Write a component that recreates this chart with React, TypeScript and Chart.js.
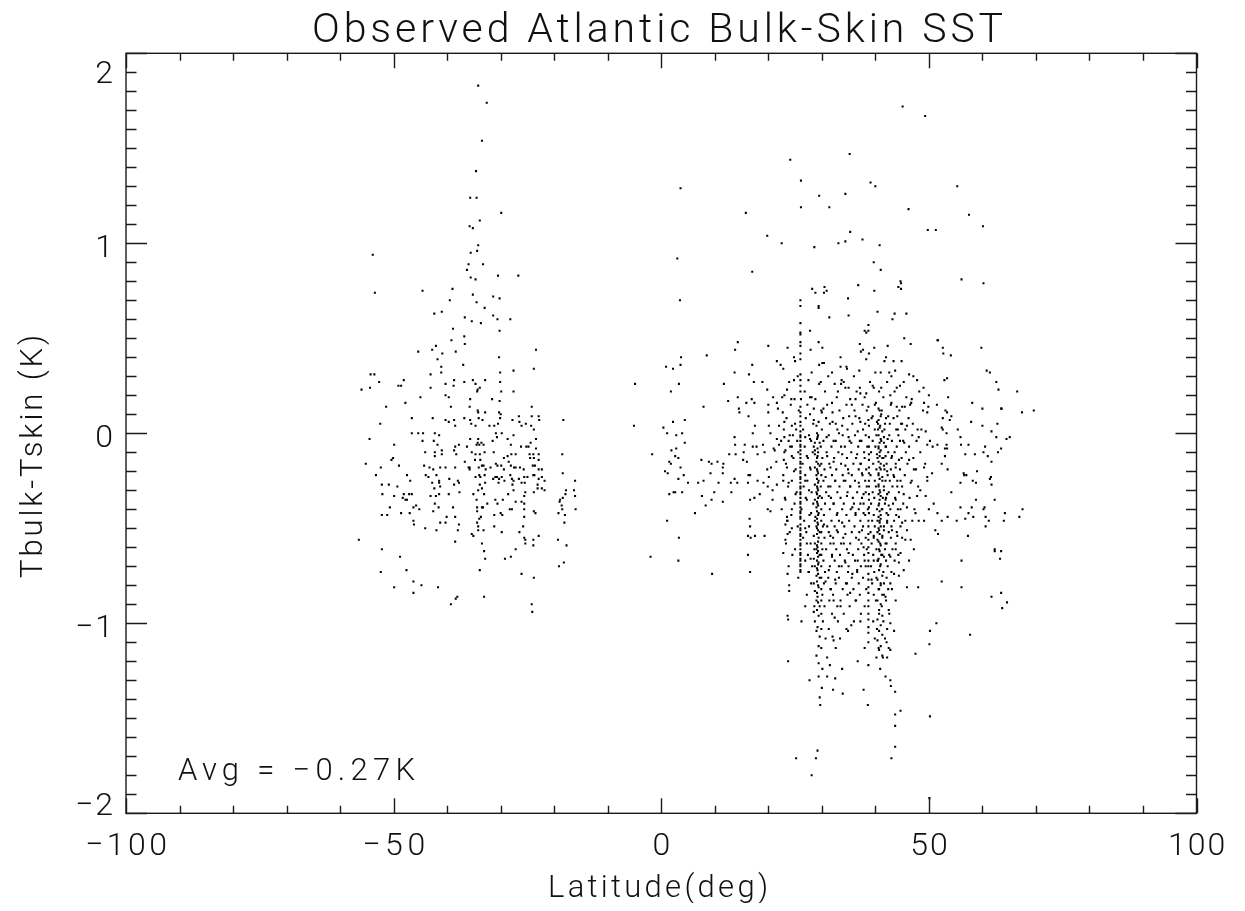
import React, { useEffect, useRef } from "react";
import { Chart, registerables } from "chart.js";

Chart.register(...registerables);

const TITLE = "Observed Atlantic Bulk-Skin SST";
const X_TITLE = "Latitude(deg)";
const Y_TITLE = "Tbulk-Tskin (K)";
const AVG_NOTE = "Avg = \u22120.27K";
const X_TICKS = [-100, -50, 0, 50, 100];
const Y_TICKS = [-2, -1, 0, 1, 2];

// [latitude (deg), Tbulk - Tskin (K)]
const southTail: number[][] = [
  [-34.2,1.83],[-32.6,1.74],[-33.5,1.54],[-34.6,1.38],[-35.7,1.24],[-34.5,1.24],[-29.9,1.16],[-33.9,1.12],[-35.8,1.09],[-35.2,1.08],
  [-34.2,0.99],[-35.6,0.95],[-34.4,0.96],[-53.9,0.94],[-36.0,0.89],[-33.3,0.89],[-36.3,0.86],[-30.5,0.83],[-26.7,0.83],[-35.6,0.82],
  [-34.7,0.81],[-53.5,0.74],[-44.6,0.75],[-39.0,0.76],[-35.2,0.73],[-31.4,0.72],[-30.2,0.71],[-39.5,0.70],[-34.5,0.69],[-33.0,0.66],
  [-42.4,0.63],[-41.0,0.64],[-31.4,0.62],[-30.6,0.60],[-28.2,0.60],[-36.7,0.61],[-35.4,0.59],[-33.7,0.58],[-38.9,0.55],
];

const southCore: number[][] = [
  [-30.2,0.54],[-36.8,0.51],[-39.2,0.49],[-42.1,0.46],[-36.7,0.47],[-42.8,0.44],[-45.4,0.43],[-38.4,0.43],[-40.9,0.42],[-23.4,0.44],[-41.8,0.39],[-41.1,0.35],[-37.0,0.36],[-30.3,0.40],
  [-54.3,0.31],[-53.6,0.31],[-43.1,0.31],[-41.1,0.32],[-27.6,0.33],[-23.8,0.34],[-30.1,0.32],
  [-48.1,0.28],[-52.7,0.27],[-38.7,0.28],[-35.2,0.28],[-32.9,0.28],[-36.8,0.27],[-34.7,0.26],[-56.0,0.23],[-54.4,0.24],[-49.1,0.25],[-48.6,0.25],[-43.1,0.24],[-40.3,0.26],[-38.8,0.25],[-34.3,0.23],[-33.9,0.24],[-34.4,0.22],[-30.1,0.27],[-29.9,0.22],[-27.6,0.22],
  [-45.0,0.19],[-47.8,0.16],[-40.3,0.20],[-39.7,0.19],[-35.7,0.18],[-31.6,0.18],[-30.2,0.17],[-51.4,0.14],[-39.3,0.14],[-35.8,0.14],[-34.3,0.12],[-34.2,0.11],[-32.9,0.11],[-30.3,0.11],[-30.0,0.10],[-30.1,0.08],[-24.2,0.14],
  [-46.6,0.08],[-42.7,0.08],[-36.8,0.08],[-40.3,0.07],[-39.7,0.06],[-38.7,0.07],[-35.7,0.07],[-35.5,0.05],[-34.7,0.04],[-34.1,0.08],[-33.4,0.07],[-32.1,0.04],[-31.2,0.04],[-30.5,0.05],[-27.8,0.07],[-26.6,0.09],[-26.5,0.06],[-26.1,0.04],[-25.3,0.05],[-24.2,0.09],[-22.9,0.09],[-22.8,0.07],[-23.8,0.02],[-24.3,0.04],[-18.3,0.07],[-52.5,0.05],[-38.5,0.04],
  [-54.5,-0.03],[-46.6,0.00],[-45.4,0.00],[-44.5,0.00],[-42.3,0.00],[-41.5,-0.01],[-44.6,-0.04],[-42.5,-0.04],[-41.8,-0.06],[-30.9,0.00],[-29.8,0.00],[-30.7,-0.02],[-31.5,-0.04],[-35.7,-0.03],[-34.2,-0.03],[-34.3,-0.05],[-33.6,-0.05],[-34.5,-0.06],[-34.0,-0.06],[-33.2,-0.06],[-36.3,-0.07],[-37.8,-0.06],[-28.7,-0.03],[-27.6,-0.01],[-28.1,-0.06],[-26.2,-0.07],[-25.2,-0.07],[-24.8,-0.07],[-24.4,-0.05],[-23.4,-0.03],[-23.4,-0.08],
  [-49.9,-0.06],[-44.1,-0.10],[-42.3,-0.10],[-41.0,-0.09],[-38.5,-0.07],[-38.7,-0.09],[-38.3,-0.11],[-42.3,-0.12],[-41.0,-0.11],[-35.4,-0.10],[-34.7,-0.11],[-33.9,-0.11],[-33.0,-0.10],[-31.3,-0.10],[-29.4,-0.13],[-28.7,-0.12],[-28.0,-0.11],[-27.2,-0.11],[-23.9,-0.11],[-22.9,-0.11],[-24.6,-0.11],[-24.5,-0.13],[-23.8,-0.13],[-22.9,-0.14],[-18.5,-0.11],
  [-55.2,-0.16],[-52.4,-0.18],[-50.4,-0.14],[-50.1,-0.13],[-49.0,-0.17],[-44.3,-0.17],[-43.3,-0.18],[-42.6,-0.19],[-41.3,-0.18],[-40.3,-0.18],[-38.5,-0.18],[-36.7,-0.15],[-36.0,-0.18],[-35.8,-0.18],[-35.8,-0.19],[-34.8,-0.14],[-33.8,-0.14],[-33.5,-0.17],[-33.2,-0.17],[-34.1,-0.18],[-32.8,-0.19],[-31.9,-0.18],[-30.9,-0.16],[-30.6,-0.17],[-29.9,-0.17],[-29.4,-0.19],[-28.5,-0.15],[-28.1,-0.17],[-27.5,-0.18],[-27.2,-0.18],[-26.4,-0.18],[-25.7,-0.19],[-24.0,-0.17],[-23.6,-0.17],[-22.9,-0.19],[-22.3,-0.19],[-18.4,-0.21],[-23.9,-0.22],
  [-53.3,-0.22],[-47.5,-0.22],[-46.9,-0.25],[-44.0,-0.22],[-43.5,-0.23],[-42.0,-0.22],[-41.5,-0.25],[-39.6,-0.24],[-38.0,-0.25],[-34.0,-0.22],[-33.8,-0.23],[-34.7,-0.23],[-33.0,-0.22],[-31.4,-0.24],[-31.0,-0.23],[-30.7,-0.23],[-30.3,-0.24],[-29.8,-0.23],[-29.3,-0.25],[-28.2,-0.22],[-27.9,-0.24],[-27.6,-0.25],[-26.6,-0.24],[-25.6,-0.23],[-25.0,-0.23],[-23.7,-0.22],[-22.9,-0.24],[-22.3,-0.23],[-21.8,-0.25],
  [-52.2,-0.27],[-50.9,-0.27],[-49.3,-0.28],[-42.8,-0.26],[-41.5,-0.26],[-42.4,-0.29],[-41.3,-0.28],[-37.8,-0.26],[-33.9,-0.27],[-32.9,-0.26],[-30.4,-0.26],[-27.8,-0.27],[-26.1,-0.26],[-25.5,-0.26],[-23.1,-0.27],[-22.3,-0.29],[-16.1,-0.25],[-38.7,-0.27],
  [-52.1,-0.32],[-49.9,-0.33],[-48.1,-0.32],[-48.3,-0.34],[-47.1,-0.32],[-46.6,-0.32],[-47.8,-0.35],[-47.5,-0.35],[-46.3,-0.39],[-45.8,-0.38],[-45.2,-0.40],[-47.0,-0.42],[-43.1,-0.33],[-42.1,-0.33],[-41.5,-0.32],[-39.7,-0.32],[-37.7,-0.31],[-35.1,-0.32],[-34.2,-0.30],[-33.5,-0.29],[-33.1,-0.32],[-34.5,-0.35],[-32.5,-0.37],[-31.0,-0.35],[-30.6,-0.37],[-29.6,-0.35],[-28.6,-0.32],[-27.6,-0.30],[-25.4,-0.31],[-25.6,-0.33],[-23.8,-0.31],[-23.1,-0.29],[-21.8,-0.30],[-17.8,-0.30],[-16.3,-0.30],[-17.9,-0.32],[-16.1,-0.33],
  [-50.7,-0.39],[-52.2,-0.43],[-51.2,-0.43],[-48.6,-0.42],[-42.6,-0.41],[-41.6,-0.39],[-42.3,-0.37],[-38.9,-0.39],[-34.4,-0.39],[-33.5,-0.39],[-34.4,-0.41],[-33.3,-0.39],[-31.2,-0.43],[-30.0,-0.42],[-29.7,-0.43],[-28.3,-0.40],[-27.9,-0.40],[-27.2,-0.36],[-26.1,-0.36],[-25.6,-0.37],[-25.6,-0.40],[-25.6,-0.44],[-23.8,-0.41],[-23.5,-0.42],[-18.9,-0.35],[-19.0,-0.36],[-18.4,-0.34],[-18.6,-0.38],[-18.5,-0.40],[-19.2,-0.42],[-16.0,-0.40],
  [-46.3,-0.46],[-46.2,-0.48],[-44.1,-0.50],[-42.0,-0.51],[-41.3,-0.47],[-40.3,-0.47],[-40.1,-0.44],[-38.5,-0.44],[-37.8,-0.48],[-38.0,-0.51],[-34.4,-0.47],[-34.0,-0.45],[-33.7,-0.44],[-34.2,-0.49],[-34.2,-0.51],[-33.2,-0.51],[-35.1,-0.54],[-35.4,-0.53],[-31.2,-0.49],[-29.8,-0.52],[-26.5,-0.52],[-25.8,-0.49],[-25.6,-0.55],[-23.9,-0.56],[-22.9,-0.54],[-18.1,-0.47],[-18.0,-0.43],
  [-56.5,-0.56],[-52.2,-0.61],[-48.8,-0.65],[-38.5,-0.57],[-33.5,-0.58],[-33.1,-0.62],[-32.9,-0.66],[-29.2,-0.66],[-28.1,-0.65],[-27.2,-0.61],[-25.4,-0.56],[-25.4,-0.58],[-23.9,-0.59],[-19.3,-0.56],[-17.7,-0.59],[-18.2,-0.68],[-19.1,-0.70],
  [-52.4,-0.73],[-47.6,-0.72],[-49.9,-0.81],[-46.3,-0.78],[-44.8,-0.80],[-46.3,-0.84],[-41.7,-0.81],[-33.9,-0.72],[-26.1,-0.74],[-23.8,-0.76],
  [-39.3,-0.90],[-38.4,-0.87],[-38.1,-0.86],[-33.1,-0.86],[-24.2,-0.90],[-24.1,-0.94],
];

const equatorBand: number[][] = [
  [24.1,1.44],[26.1,1.33],[29.5,1.25],[26.1,1.19],[22.5,1.00],[28.6,0.98],
  [3.6,1.29],[15.8,1.16],[19.8,1.04],[3.0,0.92],[17.0,0.85],[3.5,0.70],[14.3,0.48],[13.8,0.44],[20.0,0.46],[8.5,0.41],[3.7,0.40],[0.9,0.35],[2.2,0.34],[3.6,0.36],
  [17.0,0.36],[21.6,0.38],[13.7,0.32],[16.4,0.31],[-4.9,0.26],[3.3,0.26],[1.8,0.22],[11.7,0.26],[17.3,0.27],[18.9,0.27],[19.8,0.23],[20.9,0.19],[21.6,0.16],[12.5,0.17],
  [14.3,0.19],[16.9,0.18],[15.9,0.16],[17.4,0.16],[20.0,0.15],[7.9,0.14],[14.5,0.13],[14.6,0.11],[16.3,0.09],[20.0,0.11],[21.8,0.13],[-5.1,0.04],[0.4,0.03],[2.2,0.06],
  [4.4,0.07],[13.7,-0.02],[13.8,-0.06],[1.1,0.00],[2.8,-0.01],[3.9,0.00],[4.4,-0.05],[2.8,-0.08],[17.5,0.04],[17.1,0.00],[15.6,-0.06],[17.1,-0.07],[17.8,-0.07],[19.0,-0.06],
  [20.1,0.04],[20.4,0.00],[21.6,-0.03],[22.0,0.04],[22.0,-0.06],[21.0,-0.08],
  [-1.7,-0.11],[1.9,-0.09],[2.6,-0.12],[3.2,-0.13],[1.5,-0.15],[1.8,-0.16],[3.6,-0.18],[0.7,-0.20],[1.2,-0.21],[4.2,-0.22],[3.2,-0.24],[5.0,-0.26],[2.3,-0.31],[2.6,-0.31],
  [3.9,-0.31],[1.5,-0.32],[7.5,-0.14],[8.9,-0.15],[9.4,-0.16],[10.5,-0.15],[11.6,-0.16],[11.5,-0.18],[9.2,-0.21],[11.5,-0.21],[6.9,-0.26],[7.9,-0.25],[10.7,-0.26],[13.0,-0.26],
  [13.7,-0.24],[14.2,-0.26],[9.9,-0.31],[7.6,-0.33],[9.4,-0.35],[11.5,-0.36],[13.1,-0.31],[8.3,-0.38],[6.3,-0.42],[1.1,-0.46],[3.3,-0.55],[-2.0,-0.65],[3.2,-0.67],[9.5,-0.74],
  [12.7,-0.11],[13.9,-0.11],[15.4,-0.10],[15.3,-0.14],[16.0,-0.15],[16.3,-0.22],[16.6,-0.22],[16.2,-0.26],[18.0,-0.11],[19.3,-0.10],[18.0,-0.25],[18.4,-0.32],[17.4,-0.34],
  [16.6,-0.35],[16.5,-0.45],[16.6,-0.49],[16.2,-0.54],[16.7,-0.55],[17.5,-0.54],[19.3,-0.54],[16.2,-0.64],[16.6,-0.73],[19.1,-0.26],[19.8,-0.19],[20.5,-0.18],[20.1,-0.23],
  [19.9,-0.28],[21.6,-0.27],[20.8,-0.30],[20.8,-0.35],[19.9,-0.40],[20.4,-0.41],[21.2,-0.09],[21.5,-0.15],
];

const track26: number[][] = [
  [26.0,0.70],[26.0,0.67],[26.0,0.58],[26.0,0.53],[26.0,0.52],[26.0,0.48],[26.0,0.46],[26.0,0.42],[26.0,0.39],[26.0,0.31],[26.0,0.28],[26.0,0.25],[26.0,0.22],[26.1,0.18],
  [26.0,0.14],[26.0,0.11],[26.0,0.09],[26.0,0.06],[26.0,0.04],[26.0,0.01],[26.0,-0.01],[26.0,-0.02],[26.0,-0.04],[26.0,-0.06],[26.0,-0.07],[26.0,-0.09],[26.0,-0.11],
  [26.0,-0.13],[26.0,-0.15],[26.0,-0.16],[26.0,-0.18],[26.0,-0.20],[26.0,-0.21],[26.0,-0.23],[26.0,-0.24],[26.0,-0.26],[26.0,-0.28],[26.0,-0.29],[26.0,-0.31],[26.0,-0.32],
  [26.0,-0.34],[26.0,-0.36],[26.0,-0.37],[26.0,-0.39],[26.0,-0.41],[26.0,-0.42],[26.0,-0.44],[26.0,-0.45],[26.0,-0.48],[26.0,-0.50],[26.0,-0.51],[26.0,-0.53],[26.0,-0.54],
  [26.0,-0.56],[26.0,-0.58],[26.0,-0.59],[26.0,-0.61],[26.0,-0.63],[26.0,-0.64],[26.0,-0.66],[26.0,-0.67],[26.0,-0.69],[26.0,-0.70],[26.0,-0.72],[26.0,-0.73],
];

const track29: number[][] = [
  [29.4,0.67],[29.4,0.66],[29.4,0.48],[30.1,0.45],[29.5,0.26],[28.8,0.18],[28.5,0.13],[28.5,0.07],[29.4,0.06],[29.0,0.04],[29.1,0.00],[29.2,-0.02],[28.7,-0.05],[29.6,-0.05],
  [28.5,-0.07],[28.7,-0.09],[29.2,-0.08],[28.7,-0.11],[29.2,-0.12],[29.0,-0.15],[29.6,-0.17],[28.7,-0.18],[29.2,-0.20],[29.0,-0.22],[29.4,-0.25],[28.7,-0.27],[29.2,-0.29],
  [29.0,-0.31],[29.6,-0.33],[28.7,-0.35],[29.2,-0.37],[29.0,-0.39],[29.4,-0.42],[28.8,-0.44],[28.7,-0.46],[29.2,-0.47],[29.0,-0.49],[29.6,-0.52],[28.5,-0.54],[29.4,-0.55],
  [28.7,-0.58],[29.2,-0.60],[29.0,-0.61],[29.6,-0.64],[28.5,-0.66],[29.4,-0.68],[28.7,-0.70],[29.2,-0.72],[29.0,-0.75],[29.6,-0.76],[28.5,-0.79],[29.4,-0.81],[28.7,-0.83],
  [29.2,-0.86],[29.0,-0.88],[29.6,-0.91],[28.5,-0.94],[29.4,-0.96],[28.7,-0.99],[29.2,-1.02],[29.0,-1.04],[29.6,-1.07],[29.4,-1.12],[29.0,-1.17],[29.4,-1.21],[29.4,-1.28],
  [30.0,-1.34],[29.6,-1.39],[29.7,-1.43],[29.2,-1.67],[28.9,-1.71],[28.1,-1.80],[25.2,-1.71],
  [29.3,-0.01],[29.1,-0.03],[29.3,-0.10],[29.1,-0.13],[29.3,-0.16],[29.1,-0.19],[29.3,-0.21],[29.1,-0.24],[29.3,-0.26],[29.1,-0.28],[29.3,-0.30],[29.1,-0.32],
  [29.3,-0.34],[29.1,-0.36],[29.3,-0.38],[29.1,-0.41],[29.3,-0.43],[29.1,-0.45],[29.3,-0.48],[29.1,-0.50],[29.3,-0.51],[29.1,-0.53],[29.3,-0.57],[29.1,-0.59],
  [29.3,-0.62],[29.1,-0.63],[29.3,-0.65],[29.1,-0.67],[29.3,-0.69],[29.1,-0.71],[29.3,-0.74],[29.1,-0.78],[29.3,-0.80],[29.1,-0.84],[29.3,-0.89],[29.1,-0.93],
];

const track39: number[][] = [
  [38.7,0.14],[38.7,0.07],[38.8,0.04],[38.8,-0.02],[38.8,-0.07],[38.8,-0.11],[38.8,-0.14],[38.8,-0.18],[38.8,-0.21],[38.8,-0.25],[38.8,-0.28],[38.8,-0.32],[38.8,-0.35],
  [38.8,-0.39],[38.8,-0.42],[38.7,-0.46],[38.7,-0.49],[38.7,-0.53],[38.7,-0.56],[38.7,-0.60],[38.7,-0.63],[38.7,-0.67],[38.7,-0.70],[38.7,-0.74],[38.7,-0.77],[38.7,-0.81],
  [38.7,-0.84],[38.7,-0.88],[38.7,-0.91],[38.7,-0.95],[38.7,-0.98],[38.7,-1.02],[38.7,-1.05],[38.7,-1.10],[38.7,-1.22],[38.6,-1.43],
];

const track41: number[][] = [
  [40.4,-0.46],[41.0,-0.49],[40.7,-0.51],[41.3,-0.54],[40.4,-0.56],[41.0,-0.59],[40.7,-0.61],[41.3,-0.64],[40.4,-0.67],[41.0,-0.69],[40.7,-0.72],[41.3,-0.75],[40.4,-0.77],
  [41.0,-0.80],[40.7,-0.82],[41.3,-0.85],[40.4,-0.88],[41.0,-0.90],[40.7,-0.93],[41.3,-0.96],[40.4,-0.98],[41.0,-1.01],[40.7,-1.04],[41.3,-1.06],[40.4,-1.09],[41.0,-1.12],
  [40.7,-1.14],[41.3,-1.17],
  [40.8,0.12],[40.6,0.07],[40.8,0.03],[40.6,-0.01],[40.8,-0.05],[40.6,-0.08],[40.8,-0.12],[40.6,-0.15],[40.8,-0.18],[40.6,-0.21],[40.8,-0.24],[40.6,-0.27],
  [40.8,-0.30],[40.6,-0.32],[40.8,-0.35],[40.6,-0.38],[40.8,-0.41],[40.6,-0.44],[40.8,-0.47],[40.6,-0.50],[40.8,-0.53],[40.6,-0.57],[40.8,-0.62],[40.6,-0.66],
];

const northUpper: number[][] = [
  [28.2,0.76],[28.8,0.74],[30.5,0.77],[30.4,0.74],[34.9,0.71],[39.8,0.75],[44.8,0.79],[44.8,0.76],[31.4,0.61],[35.0,0.62],[40.4,0.64],[43.6,0.63],[43.2,0.60],[45.8,0.63],
  [27.8,0.54],[38.7,0.57],[38.7,0.54],[38.0,0.54],[38.3,0.53],[45.4,0.50],[46.6,0.47],[51.7,0.49],[27.9,0.44],[23.6,0.45],[37.1,0.47],[37.3,0.43],[37.7,0.44],[38.8,0.42],
  [39.8,0.45],[38.3,0.39],[42.3,0.46],[33.5,0.40],[34.6,0.35],[33.5,0.35],[42.0,0.40],[41.7,0.38],[43.4,0.38],[44.9,0.38],[24.8,0.40],[25.0,0.38],[22.3,0.36],[22.8,0.34],
  [30.1,0.37],[29.5,0.36],[30.4,0.37],[28.1,0.32],[31.9,0.32],[34.7,0.34],[37.0,0.33],[40.0,0.32],[41.0,0.32],[42.6,0.32],[43.7,0.33],[46.3,0.31],[47.8,0.28],[49.0,0.24],
  [50.0,0.20],[51.5,0.15],[24.8,0.28],[23.5,0.23],[23.0,0.20],[24.3,0.18],[27.5,0.28],[33.7,0.28],[33.6,0.26],[34.4,0.24],[35.0,0.24],[32.4,0.26],[37.1,0.24],[37.2,0.21],
  [38.3,0.21],[39.7,0.24],[39.5,0.25],[41.1,0.24],[44.0,0.24],[44.6,0.25],[42.8,0.20],[35.3,0.18],[36.3,0.18],[35.6,0.15],[27.8,0.19],[24.9,0.18],[30.3,0.13],[30.0,0.11],
  [31.9,0.16],[32.0,0.11],[40.1,0.16],[40.6,0.13],[41.1,0.10],[43.0,0.16],[44.0,0.14],[45.0,0.14],[45.5,0.14],[46.8,0.18],[46.7,0.16],[49.1,0.16],[49.9,0.14],[49.7,0.11],
  [22.7,0.11],[23.0,0.06],[24.4,0.04],[27.8,0.10],[32.0,0.06],[32.6,0.05],[33.8,0.04],[35.1,0.09],[36.3,0.09],[37.2,0.06],[39.5,0.09],[40.3,0.06],[40.9,0.04],[41.8,0.05],
  [42.4,0.09],[44.1,0.09],[45.0,0.05],[45.9,0.04],[47.9,0.02],[49.4,0.01],[25.2,0.02],[24.0,-0.01],[23.0,-0.02],[26.9,-0.02],[27.8,-0.03],[30.9,-0.02],[32.2,-0.04],[33.2,0.00],
  [33.6,-0.07],[35.0,-0.02],[35.5,-0.05],[36.7,0.01],[37.1,-0.04],[40.5,0.02],[41.0,-0.03],[41.6,-0.02],[42.0,-0.07],[42.3,-0.03],[44.2,0.02],[44.6,-0.04],[45.4,-0.05],
  [48.1,-0.02],[49.7,-0.06],[50.7,-0.07],[51.6,-0.06],[23.8,-0.04],[24.4,-0.07],[23.2,-0.09],[41.3,0.01],[41.6,-0.05],[40.6,-0.07],[41.0,0.09],
];

const northCore: number[][] = [
  [22.9,-0.14],[23.5,-0.18],[24.4,-0.12],[24.8,-0.20],[22.8,-0.25],[23.8,-0.26],[25.1,-0.32],[23.2,-0.35],[24.4,-0.40],[23.5,-0.44],
  [27.2,-0.12],[27.8,-0.18],[26.9,-0.25],[27.6,-0.30],[27.2,-0.35],[28.0,-0.42],
  [31.0,-0.12],[31.6,-0.18],[32.2,-0.15],[30.7,-0.23],[32.5,-0.25],[31.6,-0.28],[31.3,-0.33],[32.2,-0.37],[32.9,-0.42],
  [33.8,-0.11],[34.4,-0.17],[35.0,-0.21],[34.1,-0.25],[35.3,-0.28],[34.7,-0.33],[35.7,-0.39],[36.3,-0.42],
  [36.6,-0.11],[37.2,-0.16],[37.5,-0.21],[36.9,-0.26],[37.8,-0.32],[37.2,-0.37],[37.8,-0.42],
  [40.3,-0.11],[41.0,-0.09],[41.3,-0.13],[41.9,-0.12],[41.6,-0.17],[41.0,-0.19],[42.2,-0.20],[41.3,-0.23],[41.9,-0.25],[40.6,-0.28],[41.6,-0.30],[42.2,-0.32],[41.0,-0.33],
  [41.9,-0.35],[42.5,-0.38],[41.3,-0.40],[42.1,-0.42],[41.0,-0.45],
  [43.1,-0.12],[43.8,-0.18],[44.4,-0.14],[43.5,-0.23],[44.7,-0.25],[44.1,-0.28],[45.3,-0.32],[43.8,-0.35],[44.7,-0.40],[44.4,-0.44],
  [46.3,-0.14],[47.2,-0.19],[46.6,-0.26],[47.8,-0.33],[45.9,-0.39],[47.5,-0.42],
  [49.1,-0.18],[49.7,-0.23],[48.4,-0.30],[50.6,-0.21],[49.4,-0.33],[50.9,-0.37],[51.6,-0.42],[50.0,-0.40],[49.7,-0.25],
  [23.5,-0.46],[23.2,-0.48],[24.4,-0.50],[23.6,-0.53],[23.2,-0.56],[22.8,-0.63],[23.6,-0.74],[23.9,-0.80],[23.9,-0.83],[23.6,-0.96],[23.7,-0.98],[23.7,-1.20],
  [26.9,-0.50],[27.2,-0.58],[27.9,-0.66],[27.6,-0.73],[26.2,-0.99],[26.9,-0.91],[27.7,-1.30],
  [31.0,-0.49],[31.6,-0.54],[32.2,-0.58],[31.9,-0.65],[31.3,-0.72],[32.5,-0.77],[31.6,-0.82],[32.2,-0.88],[30.7,-0.78],[33.5,-0.91],[32.4,-0.97],[32.0,-1.07],[32.2,-1.09],
  [31.5,-1.22],[31.0,-1.28],[32.5,-1.29],[32.1,-1.35],[33.9,-1.37],[35.5,-1.01],[34.9,-1.04],[36.7,-1.20],[38.0,-1.13],[37.8,-1.35],
  [33.8,-0.47],[34.4,-0.53],[34.1,-0.58],[35.0,-0.63],[34.4,-0.68],[35.7,-0.74],[34.7,-0.79],[35.3,-0.84],[36.3,-0.88],[37.2,-0.99],[36.9,-0.56],[36.7,-0.67],[37.5,-0.51],[36.6,-0.72],
  [42.2,-0.47],[43.1,-0.51],[44.1,-0.54],[41.9,-0.58],[43.8,-0.61],[42.8,-0.65],[44.4,-0.68],[43.5,-0.74],[41.6,-0.79],[43.1,-0.82],[41.9,-0.86],[43.8,-0.88],[42.5,-0.93],
  [42.8,-1.00],[43.5,-1.04],[42.1,-1.10],[42.8,-1.14],[42.2,-1.18],[42.8,-1.30],[42.9,-1.33],[43.7,-1.36],[41.9,-1.28],[43.7,-1.48],[43.7,-1.54],[43.7,-1.65],[43.0,-1.71],[44.7,-1.46],
  [45.0,-0.47],[45.9,-0.51],[45.6,-0.56],[44.7,-0.63],[46.3,-0.67],[45.3,-0.72],[44.4,-0.75],[45.9,-0.81],
  [48.1,-0.46],[49.1,-0.46],[51.2,-0.51],[51.7,-0.53],[48.0,-0.81],[51.4,-1.00],[50.2,-1.04],[50.1,-1.11],[47.5,-1.16],[50.2,-1.49],[50.1,-1.92],
  [30.4,-0.48],[32.8,-0.51],[30.1,-0.61],[33.2,-0.70],[37.8,-0.60],[38.2,-0.70],[39.7,-0.54],[39.7,-0.67],[39.3,-0.77],[41.6,-0.51],[41.6,-0.65],[46.6,-0.56],[47.2,-0.61],[46.9,-0.46],
];

// the dense body of the northern cloud, row by row
const northDense: number[][] = [
  [25.5,0.30],[31.2,0.30],[36.0,0.30],[43.0,0.30],[47.1,0.30],
  [23.9,0.27],[29.8,0.27],[34.1,0.27],[39.0,0.27],[42.2,0.27],[45.3,0.27],
  [26.8,0.22],[30.6,0.22],[33.0,0.22],[36.5,0.22],[40.7,0.22],[43.6,0.22],[48.2,0.22],
  [22.6,0.19],[28.1,0.19],[32.8,0.19],[38.0,0.19],[41.5,0.19],[45.8,0.19],
  [24.2,0.15],[27.3,0.15],[31.0,0.15],[34.6,0.15],[37.6,0.15],[39.9,0.15],[42.9,0.15],[46.5,0.15],
  [25.7,0.12],[29.9,0.12],[33.3,0.12],[36.1,0.12],[38.4,0.12],[41.2,0.12],[44.5,0.12],[48.9,0.12],
  [23.4,0.08],[27.0,0.08],[30.8,0.08],[34.0,0.08],[37.0,0.08],[39.3,0.08],[42.0,0.08],[43.4,0.08],[46.2,0.08],
  [25.0,0.05],[28.4,0.05],[31.5,0.05],[35.7,0.05],[38.1,0.05],[40.5,0.05],[42.7,0.05],[44.8,0.05],[47.0,0.05],
  [22.9,0.02],[26.5,0.02],[30.0,0.02],[32.9,0.02],[34.8,0.02],[37.7,0.02],[39.9,0.02],[41.7,0.02],[43.9,0.02],[45.6,0.02],[48.6,0.02],
  [24.6,-0.01],[27.6,-0.01],[31.3,-0.01],[33.9,-0.01],[36.2,-0.01],[38.2,-0.01],[40.2,-0.01],[42.6,-0.01],[44.3,-0.01],[46.9,-0.01],
  [22.4,-0.04],[25.4,-0.04],[28.0,-0.04],[30.3,-0.04],[32.6,-0.04],[35.2,-0.04],[37.4,-0.04],[39.5,-0.04],[41.1,-0.04],[43.1,-0.04],[45.2,-0.04],[47.7,-0.04],[50.2,-0.04],
  [24.1,-0.07],[26.8,-0.07],[29.8,-0.07],[31.8,-0.07],[34.3,-0.07],[36.8,-0.07],[38.5,-0.07],[40.0,-0.07],[41.9,-0.07],[44.0,-0.07],[46.3,-0.07],
  [23.0,-0.10],[25.6,-0.10],[28.3,-0.10],[30.9,-0.10],[33.1,-0.10],[35.5,-0.10],[37.9,-0.10],[39.2,-0.10],[40.8,-0.10],[42.4,-0.10],[43.6,-0.10],[45.7,-0.10],[48.4,-0.10],
  [24.7,-0.13],[27.4,-0.13],[30.1,-0.13],[32.3,-0.13],[34.7,-0.13],[36.4,-0.13],[38.0,-0.13],[40.4,-0.13],[41.5,-0.13],[43.0,-0.13],[44.9,-0.13],[47.1,-0.13],
  [23.3,-0.16],[26.4,-0.16],[29.9,-0.16],[31.4,-0.16],[33.6,-0.16],[35.9,-0.16],[37.3,-0.16],[39.6,-0.16],[41.0,-0.16],[42.1,-0.16],[43.8,-0.16],[46.0,-0.16],[49.3,-0.16],
  [25.1,-0.19],[27.9,-0.19],[30.5,-0.19],[32.7,-0.19],[34.9,-0.19],[36.9,-0.19],[38.3,-0.19],[40.2,-0.19],[41.7,-0.19],[42.9,-0.19],[44.6,-0.19],[47.6,-0.19],
  [22.8,-0.22],[26.9,-0.22],[29.9,-0.22],[31.9,-0.22],[33.9,-0.22],[35.6,-0.22],[37.6,-0.22],[39.1,-0.22],[40.6,-0.22],[42.3,-0.22],[43.4,-0.22],[45.5,-0.22],
  [24.4,-0.25],[27.3,-0.25],[30.3,-0.25],[32.5,-0.25],[34.4,-0.25],[36.2,-0.25],[38.1,-0.25],[39.9,-0.25],[41.3,-0.25],[42.7,-0.25],[44.1,-0.25],[46.8,-0.25],
  [23.7,-0.28],[26.6,-0.28],[29.8,-0.28],[31.2,-0.28],[33.3,-0.28],[35.3,-0.28],[37.0,-0.28],[38.4,-0.28],[40.1,-0.28],[41.6,-0.28],[43.2,-0.28],[45.0,-0.28],[48.0,-0.28],
  [25.3,-0.31],[28.1,-0.31],[30.8,-0.31],[32.9,-0.31],[34.8,-0.31],[36.6,-0.31],[38.2,-0.31],[39.5,-0.31],[40.9,-0.31],[42.5,-0.31],[44.4,-0.31],
  [23.1,-0.34],[27.0,-0.34],[30.0,-0.34],[31.7,-0.34],[33.5,-0.34],[35.8,-0.34],[37.5,-0.34],[39.8,-0.34],[41.4,-0.34],[42.0,-0.34],[43.7,-0.34],[46.4,-0.34],
  [24.9,-0.37],[28.4,-0.37],[30.6,-0.37],[32.2,-0.37],[34.1,-0.37],[36.0,-0.37],[37.8,-0.37],[39.2,-0.37],[40.7,-0.37],[41.8,-0.37],[43.3,-0.37],[45.2,-0.37],
  [22.5,-0.40],[26.2,-0.40],[29.9,-0.40],[31.5,-0.40],[33.8,-0.40],[35.4,-0.40],[36.9,-0.40],[38.6,-0.40],[40.3,-0.40],[41.2,-0.40],[42.8,-0.40],[44.2,-0.40],[47.3,-0.40],
  [24.3,-0.43],[27.7,-0.43],[30.4,-0.43],[32.8,-0.43],[34.6,-0.43],[36.3,-0.43],[38.1,-0.43],[39.7,-0.43],[41.0,-0.43],[42.4,-0.43],[43.9,-0.43],
  [23.6,-0.46],[26.7,-0.46],[29.9,-0.46],[31.8,-0.46],[33.2,-0.46],[35.1,-0.46],[37.2,-0.46],[39.4,-0.46],[40.8,-0.46],[42.2,-0.46],[43.5,-0.46],[45.6,-0.46],
  [25.5,-0.49],[27.6,-0.49],[30.2,-0.49],[32.4,-0.49],[34.2,-0.49],[36.1,-0.49],[37.7,-0.49],[39.9,-0.49],[41.6,-0.49],[43.0,-0.49],[44.7,-0.49],
  [24.0,-0.52],[27.1,-0.52],[29.9,-0.52],[31.3,-0.52],[33.0,-0.52],[35.6,-0.52],[37.0,-0.52],[39.1,-0.52],[40.4,-0.52],[42.5,-0.52],[44.0,-0.52],
  [26.5,-0.55],[30.5,-0.55],[32.1,-0.55],[34.0,-0.55],[36.4,-0.55],[38.2,-0.55],[39.7,-0.55],[41.3,-0.55],[42.9,-0.55],[45.0,-0.55],
  [23.3,-0.58],[27.9,-0.58],[29.9,-0.58],[31.6,-0.58],[33.6,-0.58],[35.3,-0.58],[37.4,-0.58],[39.3,-0.58],[40.9,-0.58],[42.1,-0.58],[43.8,-0.58],
  [25.0,-0.61],[28.6,-0.61],[30.8,-0.61],[32.7,-0.61],[34.7,-0.61],[36.8,-0.61],[38.4,-0.61],[40.2,-0.61],[41.8,-0.61],[43.2,-0.61],
  [24.5,-0.64],[27.4,-0.64],[29.9,-0.64],[31.9,-0.64],[33.4,-0.64],[35.8,-0.64],[37.9,-0.64],[39.6,-0.64],[41.1,-0.64],[42.6,-0.64],[44.3,-0.64],
  [26.9,-0.67],[30.3,-0.67],[32.4,-0.67],[34.3,-0.67],[36.2,-0.67],[38.0,-0.67],[40.5,-0.67],[42.0,-0.67],[43.6,-0.67],
  [23.8,-0.70],[28.2,-0.70],[29.9,-0.70],[31.5,-0.70],[33.7,-0.70],[35.0,-0.70],[37.3,-0.70],[39.2,-0.70],[40.9,-0.70],[42.3,-0.70],
  [27.5,-0.73],[30.6,-0.73],[32.8,-0.73],[34.9,-0.73],[36.6,-0.73],[39.8,-0.73],[41.5,-0.73],[43.0,-0.73],
  [25.6,-0.76],[29.9,-0.76],[31.2,-0.76],[33.2,-0.76],[35.6,-0.76],[37.7,-0.76],[40.2,-0.76],[42.1,-0.76],
  [28.0,-0.79],[30.4,-0.79],[32.6,-0.79],[34.5,-0.79],[36.9,-0.79],[39.4,-0.79],[41.0,-0.79],[42.8,-0.79],
  [29.9,-0.82],[31.7,-0.82],[33.9,-0.82],[35.9,-0.82],[38.3,-0.82],[40.6,-0.82],[42.4,-0.82],
  [27.2,-0.85],[30.1,-0.85],[32.1,-0.85],[34.8,-0.85],[37.1,-0.85],[39.7,-0.85],[41.6,-0.85],
  [29.9,-0.88],[31.4,-0.88],[33.5,-0.88],[36.4,-0.88],[40.1,-0.88],[42.0,-0.88],
  [28.6,-0.91],[30.5,-0.91],[32.9,-0.91],[35.2,-0.91],[38.0,-0.91],[41.2,-0.91],
  [29.9,-0.95],[31.9,-0.95],[34.1,-0.95],[37.3,-0.95],[40.7,-0.95],[42.6,-0.95],
  [30.2,-0.99],[33.0,-0.99],[36.0,-0.99],[39.6,-0.99],[41.5,-0.99],
  [29.9,-1.03],[31.3,-1.03],[34.6,-1.03],[40.3,-1.03],[42.2,-1.03],
  [30.7,-1.08],[33.4,-1.08],[39.9,-1.08],[41.8,-1.08],
  [29.9,-1.13],[32.6,-1.13],[40.6,-1.13],[42.5,-1.13],
  [31.0,-1.18],[40.2,-1.18],[41.4,-1.18],
  [30.1,-1.24],[33.8,-1.24],[40.9,-1.24],
];

const northHigh: number[][] = [
  [35.2,1.47],[39.1,1.32],[40.0,1.30],[34.4,1.26],[31.4,1.19],[37.6,1.02],[34.4,1.01],[35.3,1.06],[33.1,1.00],[40.8,0.99],[44.7,0.80],[44.3,0.77],[41.0,0.86],[39.7,0.90],
  [30.9,0.75],[36.8,0.78],[45.1,1.72],[46.2,1.18],
];

const farNorth: number[][] = [
  [49.3,1.67],[55.3,1.30],[57.5,1.15],[60.1,1.09],[49.8,1.07],[51.3,1.07],[56.1,0.81],[60.2,0.79],[51.6,0.49],[52.6,0.45],[59.8,0.45],[52.7,0.42],[54.1,0.41],[60.8,0.33],
  [61.4,0.32],[53.4,0.29],[52.9,0.28],[62.6,0.27],[63.0,0.23],[66.5,0.22],[53.6,0.19],
  [58.1,0.16],[60.0,0.13],[63.5,0.13],[63.6,0.13],[67.4,0.11],[69.6,0.12],[53.1,0.12],[53.4,0.11],[54.2,0.09],[52.6,0.08],[53.9,0.07],[57.9,0.06],[60.0,0.04],[62.8,0.05],
  [52.4,0.03],[52.6,0.02],[53.3,0.00],[55.4,0.02],[55.9,-0.02],[61.7,0.01],[62.6,-0.02],[64.5,-0.03],[65.1,-0.02],[53.3,-0.06],[53.0,-0.08],[53.4,-0.08],[56.0,-0.06],
  [57.4,-0.06],[60.5,-0.07],[60.2,-0.10],[58.6,-0.11],[56.8,-0.11],[62.9,-0.10],[63.5,-0.08],[61.0,-0.12],[53.0,-0.12],[61.7,-0.15],[52.4,-0.16],[53.5,-0.19],[59.0,-0.20],
  [56.6,-0.22],[57.0,-0.22],[56.5,-0.21],[58.2,-0.25],[58.8,-0.26],[55.9,-0.26],[61.6,-0.23],[61.4,-0.24],[61.7,-0.27],[54.2,-0.31],[58.8,-0.35],[62.3,-0.35],[55.9,-0.39],
  [58.0,-0.39],[57.4,-0.42],[60.2,-0.40],[60.4,-0.39],[64.2,-0.42],[67.5,-0.40],[66.9,-0.44],[53.5,-0.44],[55.2,-0.46],[56.8,-0.45],[58.3,-0.44],[60.6,-0.44],[61.2,-0.46],
  [60.6,-0.49],[64.0,-0.46],[52.4,-0.46],[57.3,-0.54],[62.3,-0.61],[62.3,-0.62],[63.5,-0.62],[63.3,-0.66],[56.1,-0.67],[52.4,-0.78],[56.1,-0.81],[61.7,-0.86],[63.5,-0.84],
  [64.6,-0.89],[63.7,-0.92],[57.7,-1.06],
];

const GROUPS = [southTail, southCore, equatorBand, track26, track29, track39, track41, northUpper, northCore, northDense, northHigh, farNorth];

const FONT = "Roboto, 'DejaVu Sans', sans-serif";

function fmt(v: number): string {
  return v < 0 ? "\u2212" + Math.abs(v) : String(v);
}

function fitText(ctx: CanvasRenderingContext2D, text: string, width: number) {
  const c: any = ctx;
  c.letterSpacing = "0px";
  const w = ctx.measureText(text).width;
  const sp = (width - w) / Math.max(1, text.length - 1);
  c.letterSpacing = sp.toFixed(2) + "px";
  return sp;
}

const X_LABEL_WIDTH: Record<string, number> = { "-100": 82, "-50": 63 };

const framePlugin = {
  id: "idlFrame",
  afterDraw(chart: any) {
    const { ctx, chartArea: a, scales } = chart;
    const xs = scales.x;
    const ys = scales.y;
    ctx.save();
    ctx.strokeStyle = "#1a1a1a";
    ctx.lineWidth = 1.4;
    ctx.strokeRect(a.left, a.top, a.right - a.left, a.bottom - a.top);
    ctx.beginPath();
    for (let v = -100; v <= 100; v += 10) {
      const px = Math.round(xs.getPixelForValue(v)) + 0.5;
      const len = v % 50 === 0 ? 15 : 7.5;
      ctx.moveTo(px, a.bottom); ctx.lineTo(px, a.bottom - len);
      ctx.moveTo(px, a.top); ctx.lineTo(px, a.top + len);
    }
    for (let i = -20; i <= 20; i++) {
      const py = Math.round(ys.getPixelForValue(i / 10)) + 0.5;
      const len = i % 10 === 0 ? 21 : 10.5;
      ctx.moveTo(a.left, py); ctx.lineTo(a.left + len, py);
      ctx.moveTo(a.right, py); ctx.lineTo(a.right - len, py);
    }
    ctx.stroke();

    ctx.fillStyle = "#111";
    ctx.textBaseline = "alphabetic";
    (ctx as any).letterSpacing = "0px";

    // title
    ctx.font = `300 41px ${FONT}`;
    ctx.textAlign = "left";
    fitText(ctx, TITLE, 691);
    ctx.fillText(TITLE, 304, 34);

    // x tick labels
    ctx.font = `300 32px ${FONT}`;
    ctx.textAlign = "left";
    for (const v of X_TICKS) {
      const px = xs.getPixelForValue(v);
      const s = fmt(v);
      const target = X_LABEL_WIDTH[String(v)];
      let w: number;
      if (target) {
        fitText(ctx, s, target);
        w = target;
      } else {
        (ctx as any).letterSpacing = "2px";
        w = ctx.measureText(s).width - 2;
      }
      ctx.fillText(s, px - w / 2, 847);
    }
    // y tick labels
    ctx.textAlign = "right";
    (ctx as any).letterSpacing = "2px";
    for (const v of Y_TICKS) {
      let cy = ys.getPixelForValue(v) + 2;
      cy = Math.min(Math.max(cy, a.top + 18), a.bottom - 10);
      ctx.fillText(fmt(v), 107, cy + 11.5);
    }

    // axis titles
    ctx.font = `300 31px ${FONT}`;
    ctx.textAlign = "left";
    fitText(ctx, X_TITLE, 220);
    ctx.fillText(X_TITLE, 540, 889);

    ctx.save();
    ctx.translate(34, 570);
    ctx.rotate(-Math.PI / 2);
    fitText(ctx, Y_TITLE, 243);
    ctx.fillText(Y_TITLE, 0, 0);
    ctx.restore();

    fitText(ctx, AVG_NOTE, 237);
    ctx.fillText(AVG_NOTE, 170, 772);
    ctx.restore();
  },
};

export default function App() {
  const ref = useRef<HTMLCanvasElement | null>(null);
  useEffect(() => {
    if (!ref.current) return;
    const datasets = GROUPS.map((g) => ({
      data: g.map(([x, y]) => ({ x, y })),
      pointStyle: "rect" as const,
      pointRadius: 1.45,
      borderWidth: 0,
      backgroundColor: "#000",
      borderColor: "#000",
      showLine: false,
    }));
    const chart = new Chart(ref.current, {
      type: "scatter",
      data: { datasets },
      options: {
        animation: false,
        responsive: false,
        events: [],
        layout: { autoPadding: false, padding: { left: 118, top: 45.3, right: 40.5, bottom: 89.7 } },
        plugins: { legend: { display: false }, tooltip: { enabled: false }, title: { display: false } },
        scales: {
          x: { type: "linear", min: -100, max: 100, display: false },
          y: { type: "linear", min: -2, max: 2, display: false },
        },
      },
      plugins: [framePlugin],
    });
    return () => chart.destroy();
  }, []);
  return (
    <div style={{ width: 1229, height: 895 }}>
      <canvas ref={ref} width={1229} height={895} style={{ display: "block" }} />
    </div>
  );
}
